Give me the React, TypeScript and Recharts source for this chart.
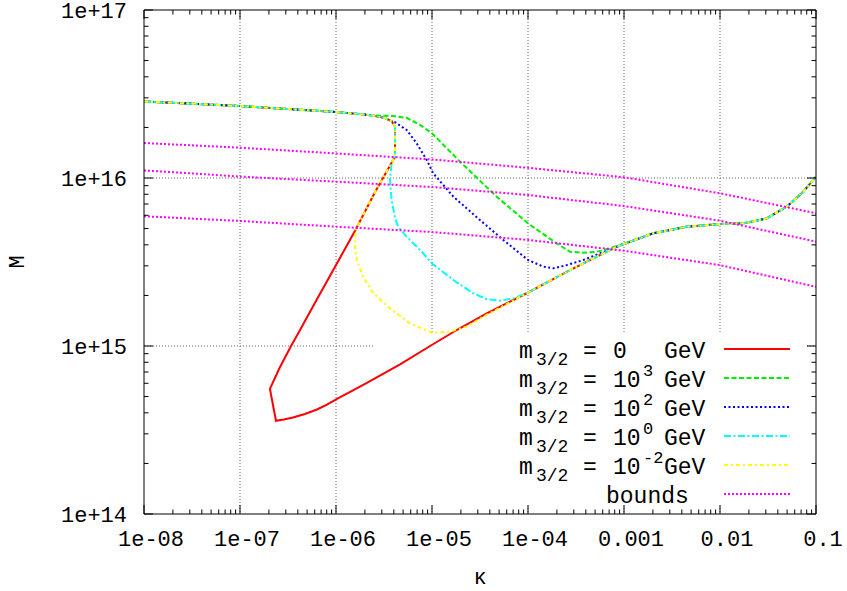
import React from 'react';
import { LineChart, Line, XAxis, YAxis, CartesianGrid, ReferenceArea } from 'recharts';

const FONT = '"Liberation Mono", "DejaVu Sans Mono", monospace';

// axis decades
const kappaTicks = [1e-8, 1e-7, 1e-6, 1e-5, 1e-4, 1e-3, 1e-2, 1e-1];
const kappaLabels = ['1e-08', '1e-07', '1e-06', '1e-05', '1e-04', '0.001', '0.01', '0.1'];
const massTicks = [1e14, 1e15, 1e16, 1e17];
const massLabels = ['1e+14', '1e+15', '1e+16', '1e+17'];

// piece shared by every m3/2 curve at small kappa
const headKappa = [1e-8, 3.16e-8, 1e-7, 3.16e-7, 1e-6, 1.78e-6, 2.43e-6];
const headMass = [2.85e16, 2.77e16, 2.68e16, 2.575e16, 2.47e16, 2.4e16, 2.355e16];
// bend before the drop (all but 10^3 GeV)
const bendKappa = [3.24e-6, 3.83e-6];
const bendMass = [2.275e16, 2.17e16];
// vertical drop (0, 10^0, 10^-2 GeV)
const dropKappa = [4.12e-6, 4.12e-6];
const dropMass = [2.01e16, 1.34e16];
// piece shared by every m3/2 curve at large kappa
const tailKappa = [9.93e-5, 2.74e-4, 8.4e-4, 2.02e-3, 4.5e-3, 1e-2, 1.75e-2, 3.06e-2, 4.95e-2, 7.38e-2, 1e-1];
const tailMass = [2.075e15, 2.83e15, 3.9e15, 4.69e15, 5.13e15, 5.32e15, 5.37e15, 5.75e15, 6.75e15, 8.29e15, 1.02e16];

const redKappa = [3.44e-6, 2.52e-6, 1.595e-6, 1.114e-6, 6.27e-7, 4.22e-7, 3.36e-7, 2.58e-7, 2.05e-7, 2.37e-7, 2.87e-7, 3.56e-7, 4.75e-7, 6.34e-7, 8.05e-7, 1.024e-6, 1.468e-6, 2.1e-6, 3.09e-6, 4.65e-6, 9.94e-6, 1.81e-5, 3.72e-5];
const redMass = [1.116e16, 8.15e15, 4.9e15, 3.39e15, 1.88e15, 1.245e15, 9.86e14, 7.4e14, 5.55e14, 3.59e14, 3.65e14, 3.75e14, 3.94e14, 4.19e14, 4.48e14, 4.84e14, 5.4e14, 6.04e14, 6.83e14, 7.78e14, 1.014e15, 1.245e15, 1.566e15];

const greenKappa = [3.93e-6, 5.5e-6, 7.5e-6, 1e-5, 1.96e-5, 4.72e-5, 1e-4, 1.99e-4, 2.74e-4, 3.74e-4, 5.2e-4, 7.15e-4, 9.08e-4];
const greenMass = [2.34e16, 2.275e16, 2.07e16, 1.845e16, 1.25e16, 7.74e15, 5.37e15, 4.08e15, 3.64e15, 3.59e15, 3.64e15, 3.82e15, 3.99e15];

const blueKappa = [4.12e-6, 5.45e-6, 6.92e-6, 8.81e-6, 1.03e-5, 1.67e-5, 3.16e-5, 5.53e-5, 1e-4, 1.44e-4, 1.84e-4, 2.53e-4, 3.77e-4];
const blueMass = [2.15e16, 1.93e16, 1.61e16, 1.28e16, 1.066e16, 7.74e15, 5.62e15, 4.28e15, 3.25e15, 2.97e15, 2.9e15, 3.03e15, 3.25e15];

const cyanKappa = [3.8e-6, 3.65e-6, 3.8e-6, 4.12e-6, 4.43e-6, 5.45e-6, 8.11e-6, 1e-5, 1.67e-5, 2.69e-5, 3.72e-5, 5.1e-5, 7.03e-5];
const cyanMass = [1.25e16, 9.73e15, 7.4e15, 5.78e15, 5.13e15, 4.48e15, 3.56e15, 3.1e15, 2.47e15, 2.06e15, 1.9e15, 1.86e15, 1.92e15];

const yellowKappa = [3.44e-6, 2.52e-6, 1.595e-6, 1.58e-6, 1.645e-6, 1.92e-6, 2.45e-6, 3.65e-6, 5.9e-6, 9.94e-6, 1.54e-5, 2.3e-5, 3.42e-5];
const yellowMass = [1.116e16, 8.15e15, 4.9e15, 3.9e15, 3.25e15, 2.585e15, 2.06e15, 1.675e15, 1.365e15, 1.2e15, 1.217e15, 1.303e15, 1.494e15];

// bounds, read at each decade of kappa
const boundKappa = [1e-8, 1e-7, 1e-6, 1e-5, 1e-4, 1e-3, 1e-2, 1e-1];
const bound1Mass = [1.615e16, 1.515e16, 1.4e16, 1.29e16, 1.15e16, 1.01e16, 8.11e15, 6.17e15];
const bound2Mass = [1.11e16, 1.02e16, 9.51e15, 8.84e15, 7.92e15, 6.81e15, 5.57e15, 4.18e15];
const bound3Mass = [5.92e15, 5.55e15, 5.13e15, 4.77e15, 4.28e15, 3.69e15, 3.03e15, 2.25e15];

const pts = (ks: number[], ms: number[]) => ks.map((k, i) => ({ k, m: ms[i] }));
const head = pts(headKappa, headMass);
const bend = pts(bendKappa, bendMass);
const drop = pts(dropKappa, dropMass);
const tail = pts(tailKappa, tailMass);
const after = (ks: number[]) => tail.filter(p => p.k > ks[ks.length - 1] * 1.0001);

const curves = [
  { value: '0', sup: '', color: '#ff0000', dash: undefined, data: [...head, ...bend, ...drop, ...pts(redKappa, redMass), ...after(redKappa)] },
  { value: '10', sup: '3', color: '#00ee00', dash: '5 2.5', data: [...head, ...pts(greenKappa, greenMass), ...after(greenKappa)] },
  { value: '10', sup: '2', color: '#0000ff', dash: '2 2.5', data: [...head, ...bend, ...pts(blueKappa, blueMass), ...after(blueKappa)] },
  { value: '10', sup: '0', color: '#00ffff', dash: '7 2.5 2 2.5', data: [...head, ...bend, ...drop, ...pts(cyanKappa, cyanMass), ...after(cyanKappa)] },
  { value: '10', sup: '-2', color: '#ffff00', dash: '4 3 2 3', data: [...head, ...bend, ...drop, ...pts(yellowKappa, yellowMass), ...after(yellowKappa)] },
];
const bounds = [bound1Mass, bound2Mass, bound3Mass].map(ms => pts(boundKappa, ms));
const BOUND_COLOR = '#ff00ff';
const BOUND_DASH = '2 2';

const withMinors = (majors: number[]) => {
  const out: number[] = [];
  majors.forEach((v, i) => {
    out.push(v);
    if (i < majors.length - 1) for (let j = 2; j < 10; j++) out.push(v * j);
  });
  return out;
};
const majorIndex = (majors: number[], v: number) => majors.findIndex(m => Math.abs(m - v) / m < 1e-6);

const textStyle = { fontFamily: FONT, fontSize: 22, fill: '#000' };

function BottomTick({ x, y, payload }: any) {
  const i = majorIndex(kappaTicks, payload.value);
  const len = i >= 0 ? 9 : 4.5;
  return (
    <g>
      <line x1={x} x2={x} y1={y} y2={y - len} stroke="#000" />
      {i >= 0 && <text x={x + 7} y={y + 32} textAnchor="middle" {...textStyle}>{kappaLabels[i]}</text>}
    </g>
  );
}
function TopTick({ x, y, payload }: any) {
  const len = majorIndex(kappaTicks, payload.value) >= 0 ? 9 : 4.5;
  return <line x1={x} x2={x} y1={y} y2={y + len} stroke="#000" />;
}
function LeftTick({ x, y, payload }: any) {
  const i = majorIndex(massTicks, payload.value);
  const len = i >= 0 ? 9 : 4.5;
  return (
    <g>
      <line x1={x} x2={x + len} y1={y} y2={y} stroke="#000" />
      {i >= 0 && <text x={x - 17} y={y + 8} textAnchor="end" {...textStyle}>{massLabels[i]}</text>}
    </g>
  );
}
function RightTick({ x, y, payload }: any) {
  const len = majorIndex(massTicks, payload.value) >= 0 ? 9 : 4.5;
  return <line x1={x} x2={x - len} y1={y} y2={y} stroke="#000" />;
}

// key box (opaque, hides the grid)
const keyBox = { x1: 2.55e-6, x2: 0.0787, y1: 1.12e14, y2: 1.19e15 };

function Key() {
  const rowY = (i: number) => 349 + i * 29;
  return (
    <svg width={847} height={591} style={{ position: 'absolute', left: 0, top: 0, pointerEvents: 'none' }}>
      {curves.map((c, i) => {
        const b = rowY(i) + 9;
        return (
          <g key={i}>
            <text x={519} y={b} {...textStyle} fontSize={23}>m</text>
            <text x={536} y={b + 7} {...textStyle} fontSize={18}>3/2</text>
            <text x={583} y={b} {...textStyle} fontSize={23}>=</text>
            <text x={613} y={b} {...textStyle} fontSize={23}>{c.value}</text>
            {c.sup && <text x={643} y={b - 11} {...textStyle} fontSize={17}>{c.sup}</text>}
            <text x={664} y={b} {...textStyle} fontSize={23}>GeV</text>
            <line x1={724} x2={790} y1={rowY(i)} y2={rowY(i)} stroke={c.color} strokeWidth={2} strokeDasharray={c.dash} />
          </g>
        );
      })}
      <text x={606} y={rowY(5) + 9} {...textStyle} fontSize={23}>bounds</text>
      <line x1={724} x2={790} y1={rowY(5)} y2={rowY(5)} stroke={BOUND_COLOR} strokeWidth={2} strokeDasharray={BOUND_DASH} />
      <text x={480} y={584} textAnchor="middle" {...textStyle}>κ</text>
      <text x={18} y={262} textAnchor="middle" dominantBaseline="central" transform="rotate(-90 18 262)" {...textStyle}>M</text>
    </svg>
  );
}

export default function App() {
  const xt = withMinors(kappaTicks);
  const yt = withMinors(massTicks);
  return (
    <div style={{ position: 'absolute', left: 0, top: 0, width: 847, height: 591, background: '#fff' }}>
      <LineChart width={847} height={591} margin={{ top: 0, right: 0, bottom: 0, left: 0 }}>
        <CartesianGrid
          stroke="#666"
          strokeDasharray="1 2"
          verticalValues={kappaTicks.slice(1, -1)}
          horizontalValues={massTicks.slice(1, -1)}
        />
        <ReferenceArea {...keyBox} fill="#fff" fillOpacity={1} stroke="none" ifOverflow="hidden" />
        <XAxis dataKey="k" type="number" scale="log" domain={[1e-8, 0.1]} allowDataOverflow ticks={xt} interval={0}
          height={77} tickSize={0} tickMargin={0} tick={<BottomTick />} axisLine={{ stroke: '#000' }} tickLine={false} />
        <XAxis xAxisId="top" orientation="top" dataKey="k" type="number" scale="log" domain={[1e-8, 0.1]} allowDataOverflow ticks={xt} interval={0}
          height={10} tickSize={0} tickMargin={0} tick={<TopTick />} axisLine={{ stroke: '#000' }} tickLine={false} />
        <YAxis type="number" scale="log" domain={[1e14, 1e17]} allowDataOverflow ticks={yt} interval={0}
          width={144} tickSize={0} tickMargin={0} tick={<LeftTick />} axisLine={{ stroke: '#000' }} tickLine={false} />
        <YAxis yAxisId="right" orientation="right" type="number" scale="log" domain={[1e14, 1e17]} allowDataOverflow ticks={yt} interval={0}
          width={31} tickSize={0} tickMargin={0} tick={<RightTick />} axisLine={{ stroke: '#000' }} tickLine={false} />
        {curves.map((c, i) => (
          <Line key={i} data={c.data} dataKey="m" type="linear" stroke={c.color} strokeWidth={2}
            strokeDasharray={c.dash} dot={false} activeDot={false} isAnimationActive={false} />
        ))}
        {bounds.map((d, i) => (
          <Line key={'b' + i} data={d} dataKey="m" type="linear" stroke={BOUND_COLOR} strokeWidth={2}
            strokeDasharray={BOUND_DASH} dot={false} activeDot={false} isAnimationActive={false} />
        ))}
      </LineChart>
      <Key />
    </div>
  );
}
